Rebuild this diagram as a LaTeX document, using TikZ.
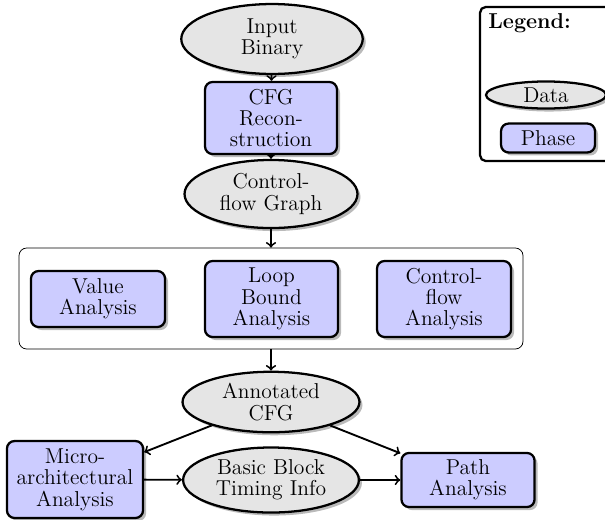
\documentclass[tikz,border=0pt]{standalone}
\usetikzlibrary{shapes.geometric,shadows}
\newcommand{\labelsize}{\fontsize{11.4}{11.3}\selectfont}
\begin{document}
\begin{tikzpicture}[x=0.529pt,y=-0.529pt,font=\labelsize,
  softshadow/.style={drop shadow={shadow xshift=1.6pt,shadow yshift=-1.6pt,opacity=0.45,fill=black!60}},
  data/.style={ellipse,draw,very thick,fill=black!10,softshadow,align=center,inner sep=0pt},
  phase/.style={rectangle,rounded corners=4pt,draw,very thick,fill=blue!20,softshadow,align=center,inner sep=0pt},
  link/.style={->,line width=1pt}]
  \useasboundingbox (0,0) rectangle (605,519);

  % main pipeline
  \node[data,minimum width=96pt,minimum height=37pt] (bin) at (272,39) {Input\\Binary};
  \node[phase,minimum width=69.8pt,minimum height=38.1pt] (rec) at (271,118) {CFG\\Recon-\\struction};
  \node[data,minimum width=91.5pt,minimum height=36pt] (cfg) at (271,194) {Control-\\flow Graph};

  % analyses grouped in one frame
  \node[draw,thin,rounded corners=4pt,minimum width=266.6pt,minimum height=53.4pt,inner sep=0pt] (group) at (271,298.5) {};
  \node[phase,minimum width=70.9pt,minimum height=29.6pt] (value) at (98,299) {Value\\Analysis};
  \node[phase,minimum width=70.4pt,minimum height=40.2pt] (loop) at (271.5,299) {Loop\\Bound\\Analysis};
  \node[phase,minimum width=70.9pt,minimum height=40.2pt] (cfa) at (444,299) {Control-\\flow\\Analysis};

  \node[data,minimum width=93.6pt,minimum height=32pt] (annot) at (271,402) {Annotated\\CFG};
  \node[phase,minimum width=72pt,minimum height=40.7pt] (micro) at (75,479.5) {Micro-\\architectural\\Analysis};
  \node[data,minimum width=93pt,minimum height=34.4pt] (timing) at (271,480) {Basic Block\\Timing Info};
  \node[phase,minimum width=70.4pt,minimum height=28.6pt] (path) at (468,480) {Path\\Analysis};

  % legend
  \node[draw,very thick,rounded corners=3pt,minimum width=74pt,minimum height=81.5pt,inner sep=0pt] (legend) at (550,84) {};
  \node[font=\labelsize\bfseries,anchor=west,inner sep=0pt] (legtitle) at (488,23) {Legend:};
  \node[data,minimum width=63.5pt,minimum height=14.3pt] (ldata) at (546,95) {Data};
  \node[phase,minimum width=49.7pt,minimum height=15.3pt] (lphase) at (548,138) {Phase};

  % connectors
  \draw[link] (bin) -- (rec);
  \draw[link] (rec) -- (cfg);
  \draw[link] (cfg) -- (group);
  \draw[link] (group) -- (annot);
  \draw[link] (annot) -- (micro);
  \draw[link] (annot) -- (path);
  \draw[link] (micro) -- (timing);
  \draw[link] (timing) -- (path);
\end{tikzpicture}
\end{document}
